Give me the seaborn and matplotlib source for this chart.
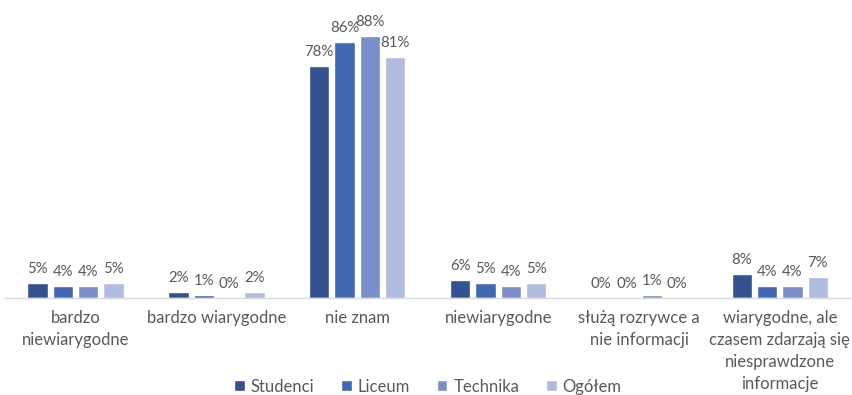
import matplotlib
matplotlib.use("Agg")
import matplotlib.pyplot as plt
import seaborn as sns
import pandas as pd

categories = [
    "bardzo\nniewiarygodne",
    "bardzo wiarygodne",
    "nie znam",
    "niewiarygodne",
    "służą rozrywce a\nnie informacji",
    "wiarygodne, ale\nczasem zdarzają się\nniesprawdzone\ninformacje",
]
series = ["Studenci", "Liceum", "Technika", "Ogółem"]
studenci = [5, 2, 78, 6, 0, 8]
liceum = [4, 1, 86, 5, 0, 4]
technika = [4, 0, 88, 4, 1, 4]
ogolem = [5, 2, 81, 5, 0, 7]
colors = ["#34528F", "#4368B3", "#7A8FCA", "#B0BCDF"]

rows = []
for name, vals in zip(series, [studenci, liceum, technika, ogolem]):
    for cat, v in zip(categories, vals):
        rows.append({"kategoria": cat, "grupa": name, "wartosc": v})
df = pd.DataFrame(rows)

sns.set_theme(style="white")
plt.rcParams["font.family"] = ["Lato", "DejaVu Sans"]

fig = plt.figure(figsize=(8.52, 3.95), dpi=100)
ax = fig.add_axes([0.006, 0.246, 0.992, 0.754])

sns.barplot(data=df, x="kategoria", y="wartosc", hue="grupa",
            palette=colors, width=0.72, gap=0.2, ax=ax,
            saturation=1, legend=True, errorbar=None)

for cont in ax.containers:
    ax.bar_label(cont, labels=[f"{v:.0f}%" for v in cont.datavalues],
                 padding=5, fontsize=10.8, color="#595959")

ax.set_ylim(0, 100)
ax.set_xlim(-0.5, 5.5)
ax.set_xlabel("")
ax.set_ylabel("")
ax.set_yticks([])
for s in ["left", "right", "top"]:
    ax.spines[s].set_visible(False)
ax.spines["bottom"].set_color("#D9D9D9")
ax.spines["bottom"].set_linewidth(1)
ax.tick_params(axis="x", length=0, pad=9, labelsize=12, labelcolor="#595959")
for lbl in ax.get_xticklabels():
    lbl.set_linespacing(1.45)

ax.legend(loc="lower center", bbox_to_anchor=(0.5, -0.375), ncol=4,
          frameon=False, fontsize=12, labelcolor="#595959",
          handlelength=0.65, handleheight=0.65, handletextpad=0.35,
          columnspacing=1.6)

fig.savefig("out.png", dpi=100)
